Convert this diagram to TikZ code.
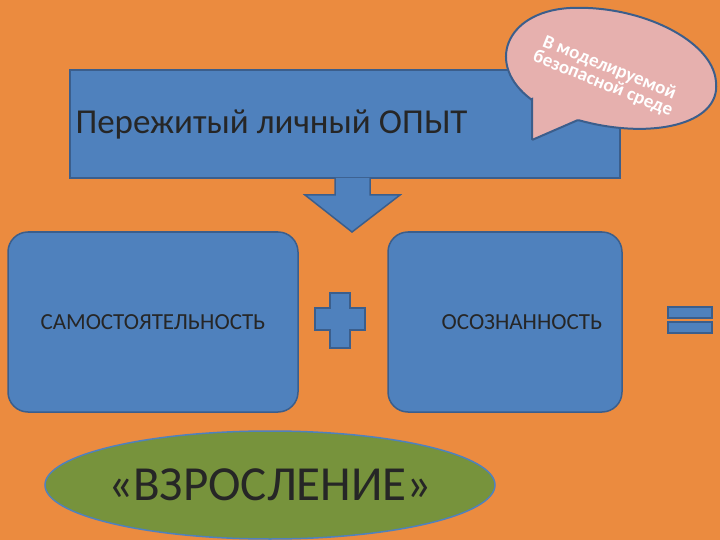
\documentclass[tikz,border=0pt]{standalone}
\usepackage{fontspec}
\setmainfont{Carlito}
\usetikzlibrary{shapes.geometric}
\definecolor{bg}{HTML}{EB8B3F}
\definecolor{bl}{HTML}{4F81BD}
\definecolor{bd}{HTML}{3B5E8C}
\definecolor{ol}{HTML}{77933C}
\definecolor{pk}{HTML}{E6B0AE}
\tikzset{shp/.style={fill=bl,draw=bd,line width=1.5pt},
 lbl/.style={text=black!85,font=\fontsize{23}{26}\selectfont}}
\begin{document}
\begin{tikzpicture}[x=1pt,y=-1pt]
\fill[bg] (0,0) rectangle (720,540);
\useasboundingbox (0,0) rectangle (720,540);
\draw[shp] (70,70) rectangle (620,178);
\node[lbl,font=\fontsize{35}{38}\selectfont,anchor=west] (t) at (72,125) {Пережитый личный ОПЫТ};
\draw[shp] (335,178) -- (335,195) -- (305,195) -- (352,232) -- (400,195) -- (370,195) -- (370,178);
\draw[shp,rounded corners=20pt] (8,232) rectangle (298,412);
\node[lbl] (s) at (153,322) {САМОСТОЯТЕЛЬНОСТЬ};
\draw[shp,rounded corners=20pt] (388,232) rectangle (622,412);
\node[lbl] (o) at (522,322) {ОСОЗНАННОСТЬ};
\draw[shp] (330,293) -- (350,293) -- (350,308) -- (365,308) -- (365,330) -- (350,330) -- (350,348) -- (330,348) -- (330,330) -- (315,330) -- (315,308) -- (330,308) -- cycle;
\draw[shp] (668,307) rectangle (712,318);
\draw[shp] (668,322) rectangle (712,333);
\node[ellipse,fill=ol,draw=bl,line width=1.5pt,minimum width=450pt,minimum height=108pt] (e) at (270,485) {};
\node[text=black!85,font=\fontsize{49}{52}\selectfont] at (e.center) {«ВЗРОСЛЕНИЕ»};
\draw[fill=pk,draw=bd,line width=2pt,rounded corners=1pt]
  (532,100) -- (532,140) -- (578,120) .. controls (650,140) and (720,125) .. (716,82)
  .. controls (712,40) and (640,5) .. (570,8) .. controls (505,12) and (485,65) .. (532,100) -- cycle;
\node[text=white,font=\bfseries\fontsize{19}{16}\selectfont,align=center,rotate=-22] (b) at (606,76) {В моделируемой\\безопасной среде};
\end{tikzpicture}
\end{document}
